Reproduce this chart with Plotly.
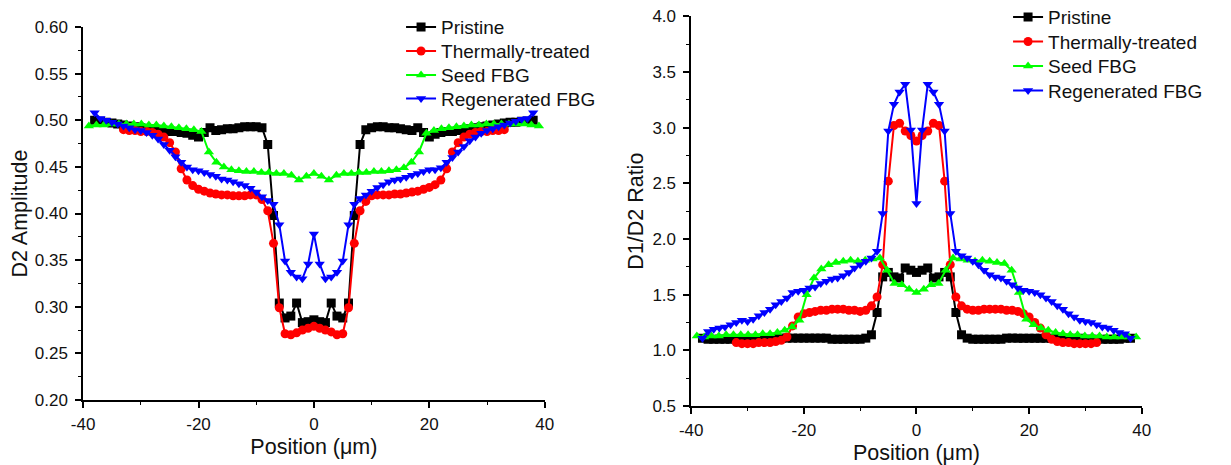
import plotly.graph_objects as go

# ---------------- data: left panel (D2 amplitude) ----------------
x_1um = [-38, -37, -36, -35, -34, -33, -32, -31, -30, -29, -28, -27, -26, -25, -24, -23, -22, -21, -20, -19,
         -18, -17, -16, -15, -14, -13, -12, -11, -10, -9, -8, -7, -6, -5, -4, -3, -2, -1, 0,
         1, 2, 3, 4, 5, 6, 7, 8, 9, 10, 11, 12, 13, 14, 15, 16, 17, 18, 19, 20,
         21, 22, 23, 24, 25, 26, 27, 28, 29, 30, 31, 32, 33, 34, 35, 36, 37, 38]

x_red_left = [-33, -32, -31, -30, -29, -28, -27, -26, -25, -24, -23, -22, -21, -20, -19, -18, -17, -16, -15,
              -14, -13, -12, -11, -10, -9, -8, -7, -6, -5, -4, -3, -2, -1, 0,
              1, 2, 3, 4, 5, 6, 7, 8, 9, 10, 11, 12, 13, 14, 15, 16, 17, 18, 19, 20,
              21, 22, 23, 24, 25, 26, 27, 28, 29, 30, 31, 32, 33]

x_red_right = [-32, -31, -30, -29, -28, -27, -26, -25, -24, -23, -22, -21, -20, -19, -18, -17, -16, -15,
               -14, -13, -12, -11, -10, -9, -8, -7, -6, -5, -4, -3, -2, -1, 0,
               1, 2, 3, 4, 5, 6, 7, 8, 9, 10, 11, 12, 13, 14, 15, 16, 17, 18, 19, 20,
               21, 22, 23, 24, 25, 26, 27, 28, 29, 30, 31, 32]

x_seed = [-39.0, -37.7, -36.4, -35.1, -33.8, -32.5, -31.2, -29.9, -28.6, -27.3, -26.0, -24.7, -23.4, -22.1,
          -20.8, -19.5, -18.2, -16.9, -15.6, -14.3, -13.0, -11.7, -10.4, -9.1, -7.8, -6.5, -5.2, -3.9,
          -2.6, -1.3, 0.0, 1.3, 2.6, 3.9, 5.2, 6.5, 7.8, 9.1, 10.4, 11.7, 13.0, 14.3, 15.6, 16.9, 18.2,
          19.5, 20.8, 22.1, 23.4, 24.7, 26.0, 27.3, 28.6, 29.9, 31.2, 32.5, 33.8, 35.1, 36.4, 37.7, 39.0]

d2_pristine = [0.500, 0.499, 0.498, 0.497, 0.496, 0.495, 0.494, 0.493, 0.492, 0.491, 0.490, 0.489, 0.489,
               0.488, 0.488, 0.487, 0.486, 0.484, 0.482, 0.487, 0.492, 0.489, 0.490, 0.491, 0.491, 0.492,
               0.493, 0.493, 0.493, 0.492, 0.474, 0.398, 0.304, 0.288, 0.290, 0.304, 0.283, 0.284, 0.286,
               0.284, 0.283, 0.304, 0.290, 0.288, 0.304, 0.398, 0.474, 0.490, 0.492, 0.493, 0.493, 0.492,
               0.492, 0.491, 0.490, 0.489, 0.492, 0.487, 0.482, 0.485, 0.487, 0.488, 0.488, 0.489, 0.490,
               0.491, 0.492, 0.493, 0.494, 0.495, 0.496, 0.497, 0.498, 0.498, 0.499, 0.499, 0.500]

d2_thermal = [0.490, 0.489, 0.489, 0.488, 0.488, 0.487, 0.485, 0.482, 0.476, 0.466, 0.448, 0.436, 0.430,
              0.426, 0.424, 0.422, 0.421, 0.420, 0.420, 0.419, 0.419, 0.419, 0.420, 0.420, 0.415, 0.403,
              0.368, 0.299, 0.271, 0.270, 0.272, 0.275, 0.277, 0.279, 0.277, 0.275, 0.273, 0.270, 0.271,
              0.299, 0.368, 0.403, 0.413, 0.419, 0.420, 0.420, 0.420, 0.421, 0.421, 0.422, 0.423, 0.424,
              0.426, 0.428, 0.431, 0.436, 0.448, 0.466, 0.476, 0.482, 0.485, 0.487, 0.488, 0.488, 0.489,
              0.489, 0.490]

d2_seed = [0.494, 0.495, 0.495, 0.496, 0.496, 0.496, 0.496, 0.496, 0.495, 0.495, 0.494, 0.493, 0.492, 0.491,
           0.490, 0.488, 0.466, 0.455, 0.450, 0.447, 0.446, 0.445, 0.445, 0.444, 0.444, 0.443, 0.443, 0.441,
           0.436, 0.440, 0.443, 0.440, 0.436, 0.441, 0.443, 0.443, 0.444, 0.444, 0.445, 0.445, 0.446, 0.447,
           0.449, 0.455, 0.466, 0.486, 0.489, 0.491, 0.492, 0.493, 0.494, 0.495, 0.495, 0.496, 0.496, 0.496,
           0.496, 0.496, 0.496, 0.495, 0.494]

d2_regen = [0.508, 0.502, 0.500, 0.498, 0.496, 0.494, 0.492, 0.490, 0.489, 0.487, 0.484, 0.480, 0.474,
            0.468, 0.461, 0.455, 0.450, 0.447, 0.446, 0.444, 0.442, 0.440, 0.437, 0.436, 0.434, 0.432,
            0.430, 0.427, 0.423, 0.418, 0.414, 0.410, 0.388, 0.349, 0.337, 0.332, 0.330, 0.346, 0.378,
            0.346, 0.330, 0.332, 0.337, 0.349, 0.388, 0.410, 0.416, 0.420, 0.424, 0.428, 0.431, 0.434,
            0.436, 0.437, 0.439, 0.441, 0.443, 0.445, 0.447, 0.447, 0.449, 0.455, 0.460, 0.466, 0.472,
            0.478, 0.482, 0.486, 0.489, 0.491, 0.493, 0.495, 0.497, 0.499, 0.501, 0.502, 0.508]

# ---------------- data: right panel (D1/D2 ratio) ----------------
r_pristine = [1.11, 1.10, 1.10, 1.10, 1.10, 1.10, 1.10, 1.10, 1.10, 1.11, 1.11, 1.11, 1.11, 1.11, 1.11,
              1.11, 1.11, 1.11, 1.11, 1.11, 1.11, 1.11, 1.11, 1.10, 1.10, 1.10, 1.10, 1.10, 1.10, 1.11,
              1.14, 1.34, 1.66, 1.70, 1.66, 1.65, 1.74, 1.72, 1.70, 1.72, 1.74, 1.65, 1.66, 1.70, 1.66,
              1.34, 1.14, 1.11, 1.10, 1.10, 1.10, 1.10, 1.10, 1.10, 1.11, 1.11, 1.11, 1.11, 1.11, 1.11,
              1.11, 1.11, 1.11, 1.11, 1.11, 1.11, 1.11, 1.11, 1.10, 1.10, 1.10, 1.10, 1.10, 1.10, 1.10,
              1.11, 1.11]

r_thermal = [1.07, 1.06, 1.06, 1.06, 1.07, 1.07, 1.07, 1.08, 1.09, 1.12, 1.22, 1.30, 1.33, 1.34, 1.35,
             1.36, 1.36, 1.37, 1.37, 1.37, 1.36, 1.36, 1.35, 1.36, 1.40, 1.48, 1.77, 2.52, 3.02, 3.04,
             2.97, 2.93, 2.88, 2.93, 2.97, 3.04, 3.02, 2.52, 1.77, 1.48, 1.40, 1.37, 1.36, 1.36, 1.37,
             1.37, 1.37, 1.37, 1.36, 1.36, 1.35, 1.33, 1.30, 1.25, 1.20, 1.14, 1.10, 1.08, 1.07, 1.07,
             1.06, 1.06, 1.06, 1.06, 1.07]

r_seed = [1.13, 1.12, 1.13, 1.13, 1.14, 1.14, 1.14, 1.14, 1.14, 1.15, 1.15, 1.16, 1.18, 1.21, 1.27, 1.50,
          1.65, 1.73, 1.77, 1.79, 1.80, 1.81, 1.80, 1.81, 1.82, 1.83, 1.72, 1.60, 1.59, 1.55, 1.52, 1.55,
          1.59, 1.60, 1.72, 1.83, 1.82, 1.81, 1.80, 1.81, 1.80, 1.79, 1.78, 1.72, 1.52, 1.28, 1.23, 1.20,
          1.18, 1.16, 1.15, 1.14, 1.14, 1.13, 1.13, 1.13, 1.12, 1.12, 1.12, 1.12, 1.12]

r_regen = [1.11, 1.17, 1.19, 1.20, 1.21, 1.23, 1.25, 1.27, 1.26, 1.28, 1.31, 1.34, 1.37, 1.41, 1.44, 1.47,
           1.52, 1.53, 1.54, 1.56, 1.57, 1.60, 1.62, 1.64, 1.65, 1.67, 1.70, 1.74, 1.77, 1.80, 1.83, 1.89,
           2.23, 2.97, 3.21, 3.32, 3.39, 2.98, 2.32, 2.98, 3.39, 3.32, 3.21, 2.97, 2.23, 1.89, 1.85, 1.83,
           1.80, 1.77, 1.72, 1.68, 1.66, 1.65, 1.62, 1.59, 1.56, 1.54, 1.53, 1.52, 1.50, 1.47, 1.44, 1.40,
           1.37, 1.33, 1.30, 1.27, 1.26, 1.25, 1.23, 1.21, 1.20, 1.18, 1.16, 1.15, 1.11]

series_names = ["Pristine", "Thermally-treated", "Seed FBG", "Regenerated FBG"]
colors = ["#000000", "#FF0000", "#00FF00", "#0000FF"]
symbols = ["square", "circle", "triangle-up", "triangle-down"]

# tick labels
x_tickvals = [-40, -20, 0, 20, 40]
x_ticktext = ["-40", "-20", "0", "20", "40"]
y1_tickvals = [0.20, 0.25, 0.30, 0.35, 0.40, 0.45, 0.50, 0.55, 0.60]
y1_ticktext = ["0.20", "0.25", "0.30", "0.35", "0.40", "0.45", "0.50", "0.55", "0.60"]
y2_tickvals = [0.5, 1.0, 1.5, 2.0, 2.5, 3.0, 3.5, 4.0]
y2_ticktext = ["0.5", "1.0", "1.5", "2.0", "2.5", "3.0", "3.5", "4.0"]

left_x = [x_1um, x_red_left, x_seed, x_1um]
left_y = [d2_pristine, d2_thermal, d2_seed, d2_regen]
right_x = [x_1um, x_red_right, x_seed, x_1um]
right_y = [r_pristine, r_thermal, r_seed, r_regen]

FONT = "Liberation Sans, Arial, sans-serif"
H = 465.0
LEG_FS = 19
ITEM_OFFSET = (LEG_FS * 1.3 + 3) / 2 + 5  # px from legend top to first item centre
left_rows = [19, 43, 67, 90.5]      # row centres (px from top), left legend
right_rows = [9, 33.5, 58, 82.5]    # row centres, right legend
left_leg_x = 0.3193
right_leg_x = 0.8124

fig = go.Figure()
legend_layout = {}
for panel, (xs, ys, rows, lx, xa, ya) in enumerate([
        (left_x, left_y, left_rows, left_leg_x, "x", "y"),
        (right_x, right_y, right_rows, right_leg_x, "x2", "y2")]):
    for i in range(4):
        idx = panel * 4 + i + 1
        lname = "legend" if idx == 1 else f"legend{idx}"
        fig.add_trace(go.Scatter(
            x=xs[i], y=ys[i], mode="lines+markers", name=series_names[i],
            line=dict(color=colors[i], width=2),
            marker=dict(symbol=symbols[i], size=9, color=colors[i]),
            xaxis=xa, yaxis=ya, legend=lname))
        legend_layout[lname] = dict(
            x=lx, y=1 - (rows[i] - ITEM_OFFSET) / H, xanchor="left", yanchor="top",
            bgcolor="rgba(0,0,0,0)", font=dict(family=FONT, size=LEG_FS, color="#111"),
            itemwidth=30)

base = dict(showline=True, linecolor="black", linewidth=1.5, ticks="outside", ticklen=6,
            tickwidth=1.5, tickcolor="black", showgrid=False, zeroline=False, mirror=False,
            automargin=False, ticklabeloverflow="allow",
            tickfont=dict(family=FONT, size=17, color="#111"))


def minor(dt, t0):
    return dict(ticks="outside", ticklen=3, tickcolor="black", tickwidth=1.2, dtick=dt, tick0=t0,
                showgrid=False)


TITLE_FONT = dict(family=FONT, size=21.5, color="#111")

fig.update_layout(
    width=1231, height=465,
    margin=dict(l=0, r=0, t=0, b=0, autoexpand=False),
    paper_bgcolor="white", plot_bgcolor="white",
    font=dict(family=FONT, color="black"),
    xaxis=dict(domain=[0.061, 0.436], range=[-40, 40], tickmode="array", tickvals=x_tickvals,
               ticktext=x_ticktext, minor=minor(10, 0), ticklabelstandoff=2,
               title=dict(text="Position (μm)", font=TITLE_FONT, standoff=6),
               anchor="y", **base),
    yaxis=dict(domain=[0.157, 0.959], range=[0.20, 0.60], tickmode="array", tickvals=y1_tickvals,
               ticktext=y1_ticktext, minor=minor(0.025, 0.2), ticklabelstandoff=4,
               title=dict(text="D2 Amplitude", font=TITLE_FONT, standoff=3),
               anchor="x", **base),
    xaxis2=dict(domain=[0.555, 0.921], range=[-40, 40], tickmode="array", tickvals=x_tickvals,
                ticktext=x_ticktext, minor=minor(10, 0), ticklabelstandoff=2,
                title=dict(text="Position (μm)", font=TITLE_FONT, standoff=6),
                anchor="y2", **base),
    yaxis2=dict(domain=[0.144, 0.982], range=[0.5, 4.0], tickmode="array", tickvals=y2_tickvals,
                ticktext=y2_ticktext, minor=minor(0.25, 0.5), ticklabelstandoff=4,
                title=dict(text="D1/D2 Ratio", font=TITLE_FONT, standoff=3),
                anchor="x2", **base),
    showlegend=True,
    **legend_layout,
)

fig.write_html("out.html")
